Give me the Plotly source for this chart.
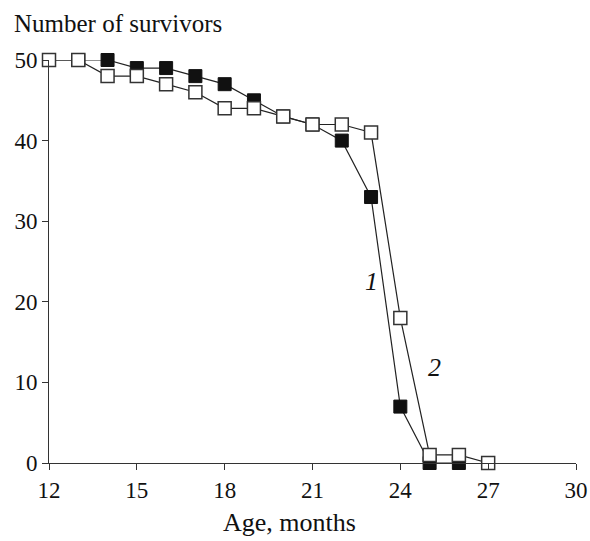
import plotly.graph_objects as go

age1 = [12, 13, 14, 15, 16, 17, 18, 19, 20, 21, 22, 23, 24, 25, 26]
surv1 = [50, 50, 50, 49, 49, 48, 47, 45, 43, 42, 40, 33, 7, 0, 0]
age2 = [12, 13, 14, 15, 16, 17, 18, 19, 20, 21, 22, 23, 24, 25, 26, 27]
surv2 = [50, 50, 48, 48, 47, 46, 44, 44, 43, 42, 42, 41, 18, 1, 1, 0]
xticks = [12, 15, 18, 21, 24, 27, 30]
yticks = [0, 10, 20, 30, 40, 50]

FONT = "Liberation Serif"

fig = go.Figure()
fig.add_trace(go.Scatter(
    x=age1, y=surv1, mode="lines+markers",
    line=dict(color="#222222", width=1.2),
    marker=dict(symbol="square", size=13, color="#111111",
                line=dict(color="#111111", width=1)),
    cliponaxis=False, showlegend=False))
fig.add_trace(go.Scatter(
    x=age2, y=surv2, mode="lines+markers",
    line=dict(color="#222222", width=1.2),
    marker=dict(symbol="square", size=13, color="white",
                line=dict(color="#333333", width=1.5)),
    cliponaxis=False, showlegend=False))

fig.add_annotation(x=23.03, y=22.5, text="<i>1</i>", showarrow=False,
                   font=dict(family=FONT, size=26, color="#111111"))
fig.add_annotation(x=25.18, y=11.9, text="<i>2</i>", showarrow=False,
                   font=dict(family=FONT, size=26, color="#111111"))
fig.add_annotation(xref="paper", yref="paper", x=0, y=1.0, xshift=-37, yshift=37,
                   xanchor="left", yanchor="middle", text="Number of survivors",
                   showarrow=False, font=dict(family=FONT, size=25, color="#111111"))
fig.add_annotation(xref="x", yref="paper", x=20.23, y=0, yshift=-59,
                   xanchor="center", yanchor="middle", text="Age, months",
                   showarrow=False, font=dict(family=FONT, size=26, color="#111111"))

fig.update_layout(
    width=590, height=541,
    margin=dict(l=49, r=14, t=60, b=78),
    paper_bgcolor="white", plot_bgcolor="white",
    font=dict(family=FONT, size=23, color="#111111"),
    xaxis=dict(range=[12, 30], tickvals=xticks, ticks="outside", ticklen=6,
               tickcolor="#333333", showline=True, linecolor="#333333", linewidth=1,
               showgrid=False, zeroline=False, automargin=False),
    yaxis=dict(range=[0, 50], tickvals=yticks, ticks="outside", ticklen=6,
               tickcolor="#333333", showline=True, linecolor="#333333", linewidth=1,
               showgrid=False, zeroline=False, automargin=False),
)

fig.write_html("out.html", config={"displayModeBar": False},
               post_script="document.body.style.margin='0';document.body.style.overflow='hidden';")
